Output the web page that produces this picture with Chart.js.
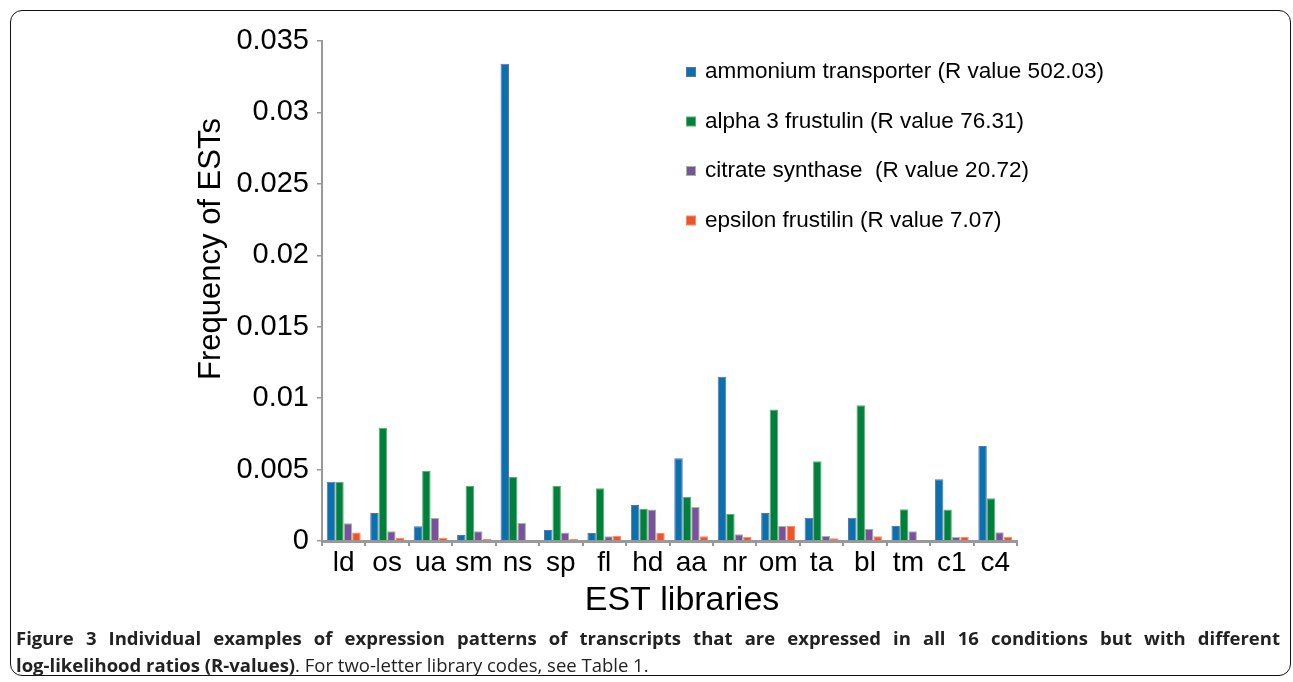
<!DOCTYPE html>
<html>
<head>
<meta charset="utf-8">
<script src="https://cdn.jsdelivr.net/npm/chart.js@4.4.1/dist/chart.umd.min.js"></script>
<style>
body { margin:0; background:#fff; width:1293px; height:682px; overflow:hidden; position:relative; }
#frame { position:absolute; left:10px; top:10px; width:1281px; height:666px; border:1.5px solid #111; border-radius:12px; box-sizing:border-box; }
#wrap { position:absolute; left:0; top:0; width:1293px; height:630px; }
#cap { position:absolute; left:16px; top:624px; width:1264px; font-family:"Open Sans", sans-serif; font-size:18.5px; line-height:27px; color:#222; }
#cap .l1 { text-align:justify; text-align-last:justify; font-weight:700; }
#cap b { font-weight:700; }
</style>
</head>
<body>
<div id="frame"></div>
<div id="wrap"><canvas id="myChart"></canvas></div>
<div id="cap"><div class="l1">Figure 3 Individual examples of expression patterns of transcripts that are expressed in all 16 conditions but with different</div><div><b>log-likelihood ratios (R-values)</b>. For two-letter library codes, see Table 1.</div></div>
<script>
var labels = ['ld','os','ua','sm','ns','sp','fl','hd','aa','nr','om','ta','bl','tm','c1','c4'];
// values
var ammonium = [0.00415,0.00196,0.00103,0.00042,0.0334,0.00077,0.00056,0.00252,0.0058,0.0115,0.00196,0.00163,0.00163,0.00105,0.00432,0.00665];
var alpha3   = [0.00415,0.00793,0.0049,0.00385,0.00448,0.00385,0.0037,0.00224,0.00308,0.00189,0.0092,0.00558,0.0095,0.00222,0.0022,0.003];
var citrate  = [0.00124,0.00068,0.00161,0.00068,0.00126,0.0006,0.00033,0.0022,0.00238,0.00047,0.00105,0.00035,0.00086,0.00068,0.00028,0.00061];
var epsilon  = [0.0006,0.00023,0.00023,0.00016,0.00007,0.00014,0.00037,0.00056,0.00033,0.00028,0.00107,0.0002,0.00033,0.00007,0.00028,0.0003];
var names = ['ammonium transporter (R value 502.03)','alpha 3 frustulin (R value 76.31)','citrate synthase  (R value 20.72)','epsilon frustilin (R value 7.07)'];
var fills = ['#0a70ae','#00803c','#7e4f9f','#f0522a'];
var edges = ['#5f6fae','#5fb070','#8fc48a','#f58a6a'];
var xTitle = 'EST libraries', yTitle = 'Frequency of ESTs';

var font = "'Liberation Sans', Arial, sans-serif";

// legend + axis titles drawn where the figure has them
var sideLegend = {
  id: 'sideLegend',
  afterDraw: function(chart) {
    var ctx = chart.ctx;
    ctx.save();
    ctx.font = '22.5px ' + font;
    ctx.textBaseline = 'middle';
    chart.data.datasets.forEach(function(ds, i) {
      var y = 72 + i * 49.5;
      ctx.fillStyle = ds.borderColor;
      ctx.fillRect(686, y - 5, 10, 10);
      ctx.fillStyle = ds.backgroundColor;
      ctx.fillRect(687, y - 4, 8, 8);
      ctx.fillStyle = '#000';
      ctx.fillText(ds.label, 705, y);
    });
    ctx.textAlign = 'center';
    ctx.font = '34px ' + font;
    ctx.fillText(xTitle, 682, 601);
    ctx.translate(211, 249);
    ctx.rotate(-Math.PI / 2);
    ctx.font = '31px ' + font;
    ctx.fillText(yTitle, 0, 0);
    ctx.restore();
  }
};

var ctx = document.getElementById('myChart');
var myChart = new Chart(ctx, {
  type: 'bar',
  data: {
    labels: labels,
    datasets: [
      { label: names[0], data: ammonium, backgroundColor: fills[0], borderColor: edges[0] },
      { label: names[1], data: alpha3, backgroundColor: fills[1], borderColor: edges[1] },
      { label: names[2], data: citrate, backgroundColor: fills[2], borderColor: edges[2] },
      { label: names[3], data: epsilon, backgroundColor: fills[3], borderColor: edges[3] }
    ]
  },
  options: {
    responsive: true,
    maintainAspectRatio: false,
    animation: false,
    layout: { padding: { left: 184, right: 276, top: 41, bottom: 0 } },
    datasets: { bar: { categoryPercentage: 0.78, barPercentage: 1.0, borderWidth: 1 } },
    plugins: { legend: { display: false }, tooltip: { enabled: false } },
    scales: {
      x: {
        grid: { display: true, drawOnChartArea: false, offset: true, color: '#999', lineWidth: 2, tickLength: 5 },
        border: { display: true, color: '#999', width: 3 },
        ticks: { color: '#000', font: { family: font, size: 28 }, padding: 0, maxRotation: 0, autoSkip: false },
        title: { display: false },
        afterFit: function(s) { s.height = 89; }
      },
      y: {
        min: 0, max: 0.035,
        grid: { display: true, drawOnChartArea: false, color: '#999', lineWidth: 1.5, tickLength: 5 },
        border: { display: true, color: '#999', width: 2 },
        ticks: { stepSize: 0.005, color: '#000', font: { family: font, size: 29 }, padding: 8,
          callback: function(v) { return +v.toFixed(3) + ''; } },
        title: { display: false },
        afterFit: function(s) { s.width = 138; }
      }
    }
  },
  plugins: [sideLegend]
});
</script>
</body>
</html>
